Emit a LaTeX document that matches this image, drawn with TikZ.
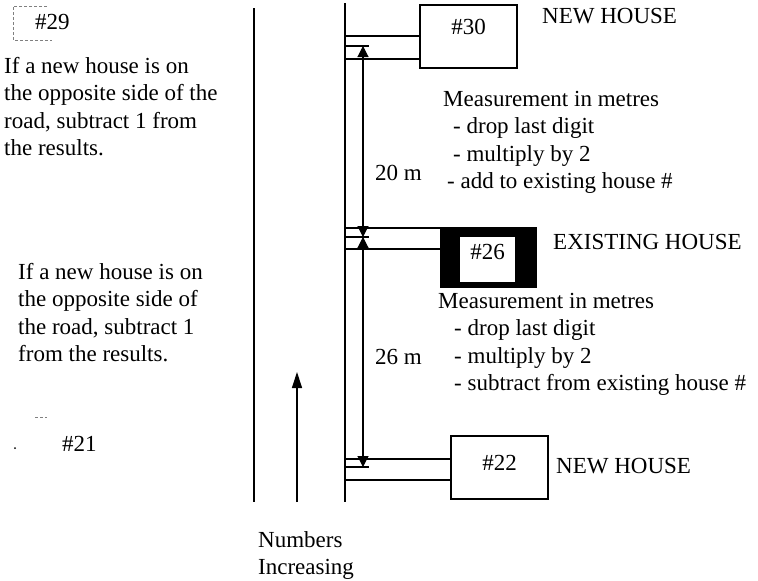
\documentclass[tikz,border=0pt]{standalone}
\usepackage{fontspec}
\setmainfont{Liberation Serif}
\usepackage{tikz}
\usetikzlibrary{positioning, arrows.meta}
\tikzstyle{house} = [rectangle, minimum width=97pt, minimum height=63pt, text centered, draw=black, line width=1.3pt]
\tikzstyle{oldhouse} = [rectangle, minimum width=97pt, minimum height=61pt, fill=black]
\tikzstyle{note} = [inner sep=0pt, anchor=west, align=left]
\tikzstyle{road} = [line width=1.4pt]
\tikzstyle{drive} = [line width=1.2pt]
\tikzstyle{dim} = [line width=1.1pt, {Triangle[width=11pt,length=11pt]}-{Triangle[width=11pt,length=11pt]}]
\tikzstyle{faint} = [gray, densely dashed, line width=0.6pt]

\begin{document}
\begin{tikzpicture}[x=1pt, y=-1pt, font=\fontsize{23}{27.5}\selectfont]
		\useasboundingbox (0,0) rectangle (758,581);
		% road edges
		\coordinate (Road Left Top) at (254,8);
		\coordinate (Road Left End) at (254,502);
		\coordinate (Road Top) at (345,3);
		\coordinate (Road End) at (345,502);
		\draw [road] (Road Left Top) -- (Road Left End);
		\draw [road] (Road Top) -- (Road End);
		% houses
		\node (New Top)[house, text depth=19pt] at (468.5,36.5){\#30};
		\node (Existing)[oldhouse] at (488.5,257.5){};
		\node (Existing Inner)[fill=white, minimum width=55pt, minimum height=45pt, text depth=15pt] at (487.5,259.5){\#26};
		\node (New Bottom)[house, text depth=9pt] at (499.5,467.5){\#22};
		\node (Tag Top)[note] at (542,16){NEW HOUSE};
		\node (Tag Existing)[note] at (553,242){EXISTING HOUSE};
		\node (Tag Bottom)[note] at (556,466){NEW HOUSE};
		% driveways
		\foreach \y/\h in {36/New Top, 59/New Top, 228/Existing, 249/Existing, 459/New Bottom, 480/New Bottom}
			\draw [drive] (345,\y) -- (\h.west |- 0,\y);
		% measuring points
		\coordinate (Mark Top) at (363,46);
		\coordinate (Mark Mid) at (363,237);
		\coordinate (Mark Bottom) at (363,467);
		\foreach \m in {Mark Top, Mark Mid, Mark Bottom}
			\draw [drive] (Road Top |- \m) -- ++(24,0);
		\draw [dim] (Mark Mid) -- (Mark Top);
		\draw [dim] (Mark Mid) -- (Mark Bottom);
		\node (Dist Top)[note] at (375,173){20 m};
		\node (Dist Bottom)[note] at (375,357){26 m};
		% rules
		\node (Rule Add)[note, anchor=north west] at (443,91){Measurement in metres\\
			\hspace*{10pt}- drop last digit\\
			\hspace*{10pt}- multiply by 2\\
			\hspace*{4pt}- add to existing house \#};
		\node (Rule Sub)[note, anchor=north west] at (438,293){Measurement in metres\\
			\hspace*{16pt}- drop last digit\\
			\hspace*{16pt}- multiply by 2\\
			\hspace*{16pt}- subtract from existing house \#};
		\node (Side Top)[note, anchor=north west] at (4,57){If a new house is on\\the opposite side of the\\road, subtract 1 from\\the results.};
		\node (Side Bottom)[note, anchor=north west] at (18,263){If a new house is on\\the opposite side of\\the road, subtract 1\\from the results.};
		% houses on the other side
		\draw [faint] (47,6) -- (13,6) -- (13,40) -- (52,40);
		\node (Other Top)[note] at (35,22){\#29};
		\draw [faint] (35,417) -- (47,417);
		\fill (15,448) circle (1pt);
		\node (Other Bottom)[note] at (62,444){\#21};
		% direction of numbering
		\coordinate (Count Start) at (297,502);
		\coordinate (Count End) at (297,372);
		\draw [drive, -{Triangle[width=10pt,length=16pt]}] (Count Start) -- (Count End);
		\node (Count)[note, anchor=north west] at (258,531){Numbers\\Increasing};
	\end{tikzpicture}
\end{document}
